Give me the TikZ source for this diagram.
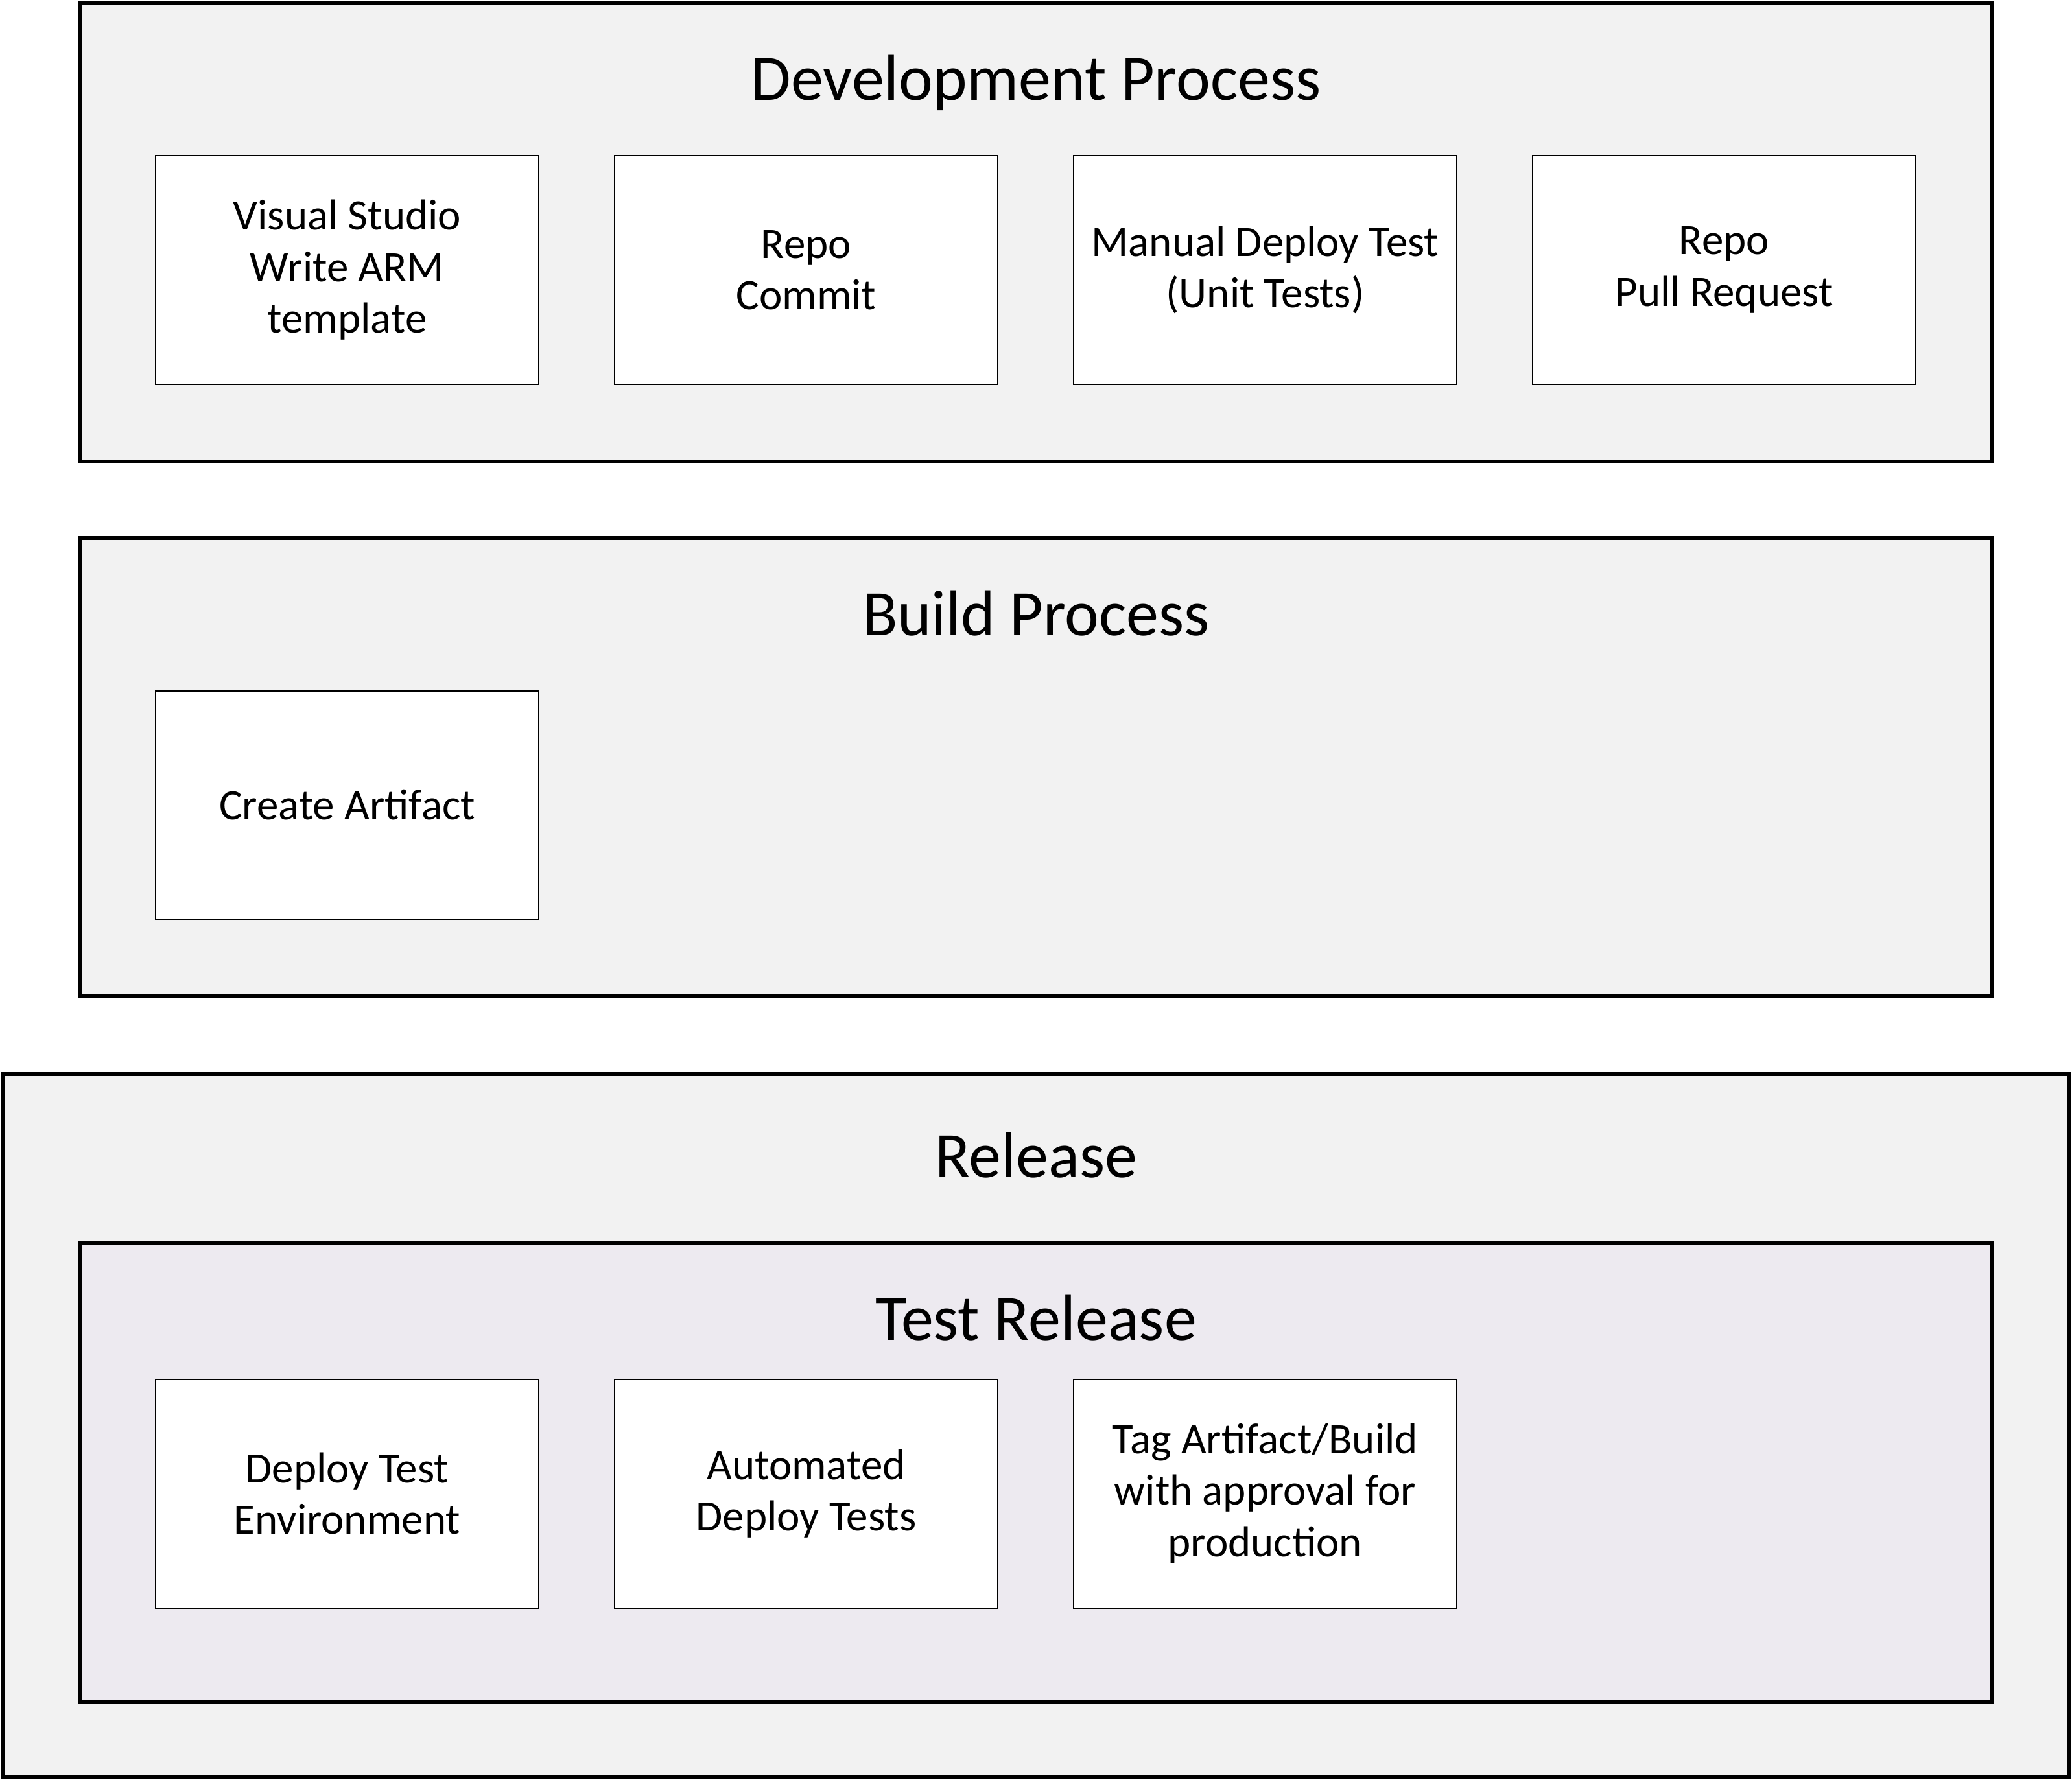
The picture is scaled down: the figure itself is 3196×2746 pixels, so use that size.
\documentclass[tikz,border=0pt]{standalone}
\usepackage{fontspec}
\setmainfont{Carlito}
\definecolor{stagegray}{HTML}{F2F2F2}
\definecolor{testlilac}{HTML}{EDEAF0}

\begin{document}
\begin{tikzpicture}[x=1pt, y=-1pt, node distance=708pt,
    stage/.style={draw, line width=6pt, fill=stagegray, minimum width=2950pt, minimum height=707pt, inner sep=0pt},
    title/.style={anchor=base, font=\fontsize{100}{120}\selectfont},
    task/.style={draw, line width=2pt, fill=white, minimum width=591pt, minimum height=353pt, align=center, inner sep=0pt, font=\fontsize{67}{79.5}\selectfont}]
    \useasboundingbox (0,0) rectangle (3196,2746);

    % development
    \node[stage] (dev) at (1598,358) {};
    \node[title] (devtitle) at (1598,154) {Development Process};
    \node[task] (vs) at (535.5,416.5) {Visual Studio\\Write ARM\\template};
    \node[task, right of=vs] (commit) {Repo\\Commit};
    \node[task, right of=commit] (manual) {Manual Deploy Test\\(Unit Tests)};
    \node[task, right of=manual] (pr) {Repo\\Pull Request};

    % build
    \node[stage] (build) at (1598,1183) {};
    \node[title] (buildtitle) at (1598,980) {Build Process};
    \node[task] (artifact) at (535.5,1242) {Create Artifact};

    % release
    \node[stage, minimum width=3188pt, minimum height=1084pt] (release) at (1598,2199) {};
    \node[title] (reltitle) at (1598,1816) {Release};
    \node[stage, fill=testlilac] (testrel) at (1598,2271.5) {};
    \node[title] (testtitle) at (1598,2067) {Test Release};
    \node[task] (deploy) at (535.5,2304) {Deploy Test\\Environment};
    \node[task, right of=deploy] (auto) {Automated\\Deploy Tests};
    \node[task, right of=auto] (tag) {Tag Artifact/Build\\with approval for\\production};
  \end{tikzpicture}
\end{document}
